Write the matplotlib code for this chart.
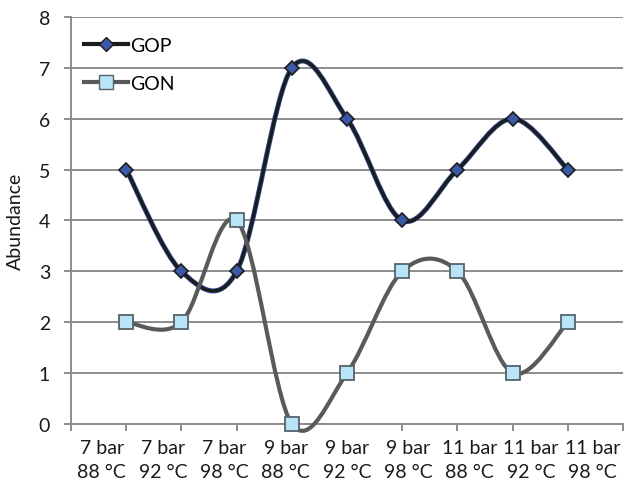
import numpy as np
import matplotlib.pyplot as plt
from matplotlib.path import Path
from matplotlib.patches import PathPatch
from matplotlib.lines import Line2D

plt.rcParams['font.family'] = ['Lato', 'DejaVu Sans']

# data
categories = ['7 bar\n88 °C', '7 bar\n92 °C', '7 bar\n98 °C',
              '9 bar\n88 °C', '9 bar\n92 °C', '9 bar\n98 °C',
              '11 bar\n88 °C', '11 bar\n92 °C', '11 bar\n98 °C']
gop = [5, 3, 3, 7, 6, 4, 5, 6, 5]
gon = [2, 2, 4, 0, 1, 3, 3, 1, 2]


# smoothed line like excel (catmull-rom bezier)
def smooth_path(xs, ys):
    pts = np.column_stack([xs, ys]).astype(float)
    ext = np.vstack([pts[0], pts, pts[-1]])
    verts = [pts[0]]
    codes = [Path.MOVETO]
    for i in range(len(pts) - 1):
        p0, p1, p2, p3 = ext[i], ext[i + 1], ext[i + 2], ext[i + 3]
        c1 = p1 + (p2 - p0) / 6.0
        c2 = p2 - (p3 - p1) / 6.0
        verts += [c1, c2, p2]
        codes += [Path.CURVE4] * 3
    return Path(verts, codes)


x = np.arange(1, len(categories) + 1)

fig = plt.figure(figsize=(6.25, 4.89), dpi=100)
ax = fig.add_axes([0.1136, 0.131, 0.8834, 0.8322])

gridc = '#8c8c8c'
txtc = '#1a1a1a'
ax.set_xlim(0, 10)
ax.set_ylim(0, 8)
ax.set_yticks(range(0, 9))
ax.yaxis.grid(True, color=gridc, lw=1.4)
ax.set_axisbelow(True)

# GOP: blue outline around dark core
ax.add_patch(PathPatch(smooth_path(x, gop), fill=False, ec='#2f4f9f', lw=3.6,
                       capstyle='round', joinstyle='round', zorder=3))
ax.add_patch(PathPatch(smooth_path(x, gop), fill=False, ec='#1c1c1c', lw=2.4,
                       capstyle='round', joinstyle='round', zorder=3))
ax.plot(x, gop, ls='none', marker='D', ms=7, mfc='#3a5aa8', mec='#1c1c1c',
        mew=1.2, zorder=4)

# GON
ax.add_patch(PathPatch(smooth_path(x, gon), fill=False, ec='#5a5a5a', lw=3.0,
                       capstyle='round', joinstyle='round', zorder=5, clip_on=False))
ax.plot(x, gon, ls='none', marker='s', ms=10, mfc='#b9e4f8', mec='#56636b',
        mew=1.3, zorder=6, clip_on=False)

for s in ['top', 'right']:
    ax.spines[s].set_visible(False)
for s in ['left', 'bottom']:
    ax.spines[s].set_color(gridc)
    ax.spines[s].set_linewidth(1.4)

# category labels spread over 9 slots, tick marks at 0..10
ax.set_xticks([(i + 0.5) * 10 / 9 for i in range(len(categories))])
ax.set_xticklabels(categories, fontsize=14, color=txtc, linespacing=1.45)
ax.set_xticks(range(0, 11), minor=True)
ax.tick_params(axis='x', which='major', length=0, pad=11)
ax.tick_params(axis='x', which='minor', length=5, width=1.4, color=gridc, direction='out')
ax.tick_params(axis='y', length=5, width=1.4, color=gridc, labelsize=14,
               labelcolor=txtc, pad=10)

ax.set_ylabel('Abundance', fontsize=14, color=txtc)
ax.yaxis.set_label_coords(-0.085, 0.5)

h1 = Line2D([], [], color='#1c1c1c', lw=3, marker='D', ms=7, mfc='#3a5aa8', mec='#1c1c1c')
h2 = Line2D([], [], color='#5a5a5a', lw=3, marker='s', ms=10, mfc='#b9e4f8', mec='#56636b')
ax.legend([h1, h2], ['GOP', 'GON'], loc='upper left', bbox_to_anchor=(0.003, 0.98),
          frameon=False, fontsize=14, handlelength=2.25, handletextpad=0.12,
          labelspacing=1.1, borderaxespad=0.2)

fig.savefig('out.png', dpi=100)
